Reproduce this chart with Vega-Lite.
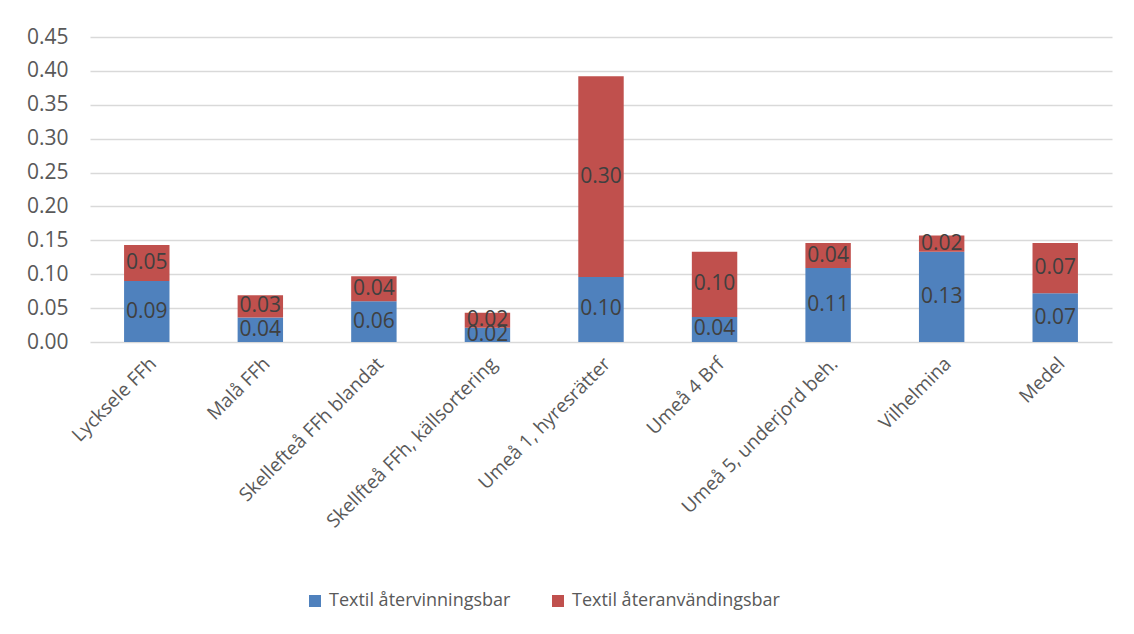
{
  "$schema": "https://vega.github.io/schema/vega-lite/v6.json",
  "width": 1022,
  "height": 305,
  "autosize": "none",
  "padding": {"left": 90, "top": 37, "right": 22, "bottom": 292},
  "background": "white",
  "config": {
    "view": {"stroke": null},
    "font": "Open Sans"
  },
  "data": {
    "values": [
      {"site": "Lycksele FFh", "series": "Textil återvinningsbar", "value": 0.090},
      {"site": "Lycksele FFh", "series": "Textil återanvändingsbar", "value": 0.053},
      {"site": "Malå FFh", "series": "Textil återvinningsbar", "value": 0.036},
      {"site": "Malå FFh", "series": "Textil återanvändingsbar", "value": 0.033},
      {"site": "Skellefteå FFh blandat", "series": "Textil återvinningsbar", "value": 0.060},
      {"site": "Skellefteå FFh blandat", "series": "Textil återanvändingsbar", "value": 0.037},
      {"site": "Skellfteå FFh, källsortering", "series": "Textil återvinningsbar", "value": 0.021},
      {"site": "Skellfteå FFh, källsortering", "series": "Textil återanvändingsbar", "value": 0.022},
      {"site": "Umeå 1, hyresrätter", "series": "Textil återvinningsbar", "value": 0.096},
      {"site": "Umeå 1, hyresrätter", "series": "Textil återanvändingsbar", "value": 0.296},
      {"site": "Umeå 4 Brf", "series": "Textil återvinningsbar", "value": 0.037},
      {"site": "Umeå 4 Brf", "series": "Textil återanvändingsbar", "value": 0.096},
      {"site": "Umeå 5, underjord beh.", "series": "Textil återvinningsbar", "value": 0.109},
      {"site": "Umeå 5, underjord beh.", "series": "Textil återanvändingsbar", "value": 0.037},
      {"site": "Vilhelmina", "series": "Textil återvinningsbar", "value": 0.133},
      {"site": "Vilhelmina", "series": "Textil återanvändingsbar", "value": 0.024},
      {"site": "Medel", "series": "Textil återvinningsbar", "value": 0.072},
      {"site": "Medel", "series": "Textil återanvändingsbar", "value": 0.074}
    ]
  },
  "transform": [
    {"stack": "value", "groupby": ["site"], "sort": [{"field": "series", "order": "descending"}], "as": ["v0", "v1"]},
    {"calculate": "(datum.v0 + datum.v1) / 2", "as": "vmid"}
  ],
  "encoding": {
    "x": {
      "field": "site",
      "type": "nominal",
      "sort": null,
      "scale": {"paddingInner": 0.6, "paddingOuter": 0.3},
      "axis": {
        "title": null,
        "labelAngle": -45,
        "labelFontSize": 19,
        "labelColor": "#595959",
        "labelPadding": 12,
        "labelDx": -16,
        "ticks": false,
        "domain": false,
        "labelLimit": 400
      }
    }
  },
  "layer": [
    {
      "mark": {"type": "bar"},
      "encoding": {
        "y": {
          "field": "v0",
          "type": "quantitative",
          "scale": {"domain": [0, 0.45]},
          "axis": {
            "title": null,
            "values": [0, 0.05, 0.1, 0.15, 0.2, 0.25, 0.3, 0.35, 0.4, 0.45],
            "format": ".2f",
            "labelFontSize": 21,
            "labelColor": "#595959",
            "labelPadding": 22,
            "labelOverlap": false,
            "ticks": false,
            "domain": false,
            "gridColor": "#d9d9d9",
            "gridWidth": 1.5
          }
        },
        "y2": {"field": "v1"},
        "color": {
          "field": "series",
          "type": "nominal",
          "scale": {
            "domain": ["Textil återvinningsbar", "Textil återanvändingsbar"],
            "range": ["#4f81bd", "#c0504d"]
          },
          "legend": {
            "title": null,
            "orient": "none",
            "direction": "horizontal",
            "legendX": 216,
            "legendY": 555,
            "symbolType": "square",
            "symbolSize": 144,
            "symbolStrokeWidth": 0,
            "labelFontSize": 18,
            "labelColor": "#595959",
            "labelLimit": 500,
            "columnPadding": 38,
            "labelOffset": 5
          }
        }
      }
    },
    {
      "mark": {"type": "text", "fontSize": 21, "color": "#404040"},
      "encoding": {
        "y": {
          "field": "vmid",
          "type": "quantitative",
          "axis": {
            "title": null,
            "values": [0, 0.05, 0.1, 0.15, 0.2, 0.25, 0.3, 0.35, 0.4, 0.45],
            "format": ".2f",
            "labelFontSize": 21,
            "labelColor": "#595959",
            "labelPadding": 22,
            "labelOverlap": false,
            "ticks": false,
            "domain": false,
            "gridColor": "#d9d9d9",
            "gridWidth": 1.5
          }
        },
        "text": {"field": "value", "type": "quantitative", "format": ".2f"}
      }
    }
  ]
}
